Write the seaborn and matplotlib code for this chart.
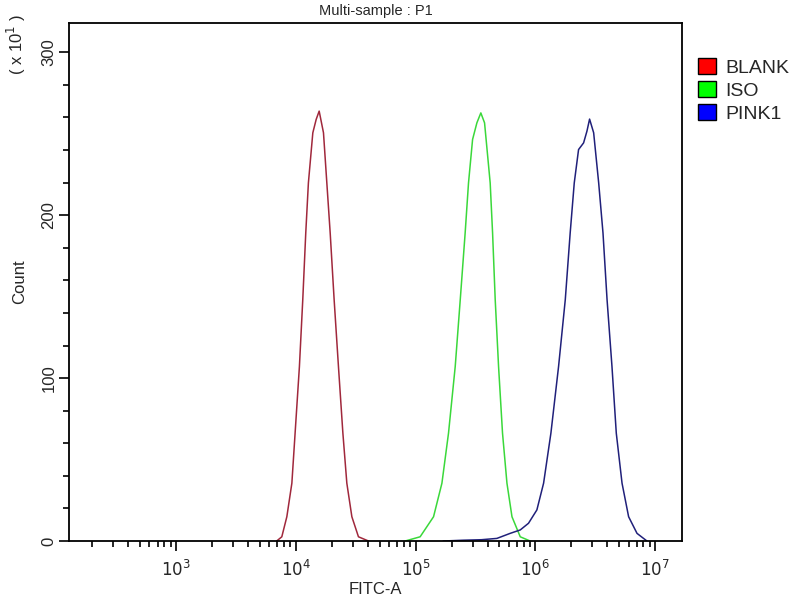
import numpy as np
import pandas as pd
import matplotlib
matplotlib.use("Agg")
import matplotlib.pyplot as plt
import matplotlib.ticker as mticker
from matplotlib.patches import Patch
import seaborn as sns

# peak traces: log10(FITC-A) and count (x10)
blank_log = [3.84, 3.883, 3.925, 3.967, 3.994, 4.030, 4.058, 4.083, 4.105, 4.142, 4.170, 4.195,
             4.231, 4.259, 4.287, 4.320, 4.356, 4.393, 4.426, 4.468, 4.523, 4.607]
blank_cnt = [0, 2.6, 14.9, 35.5, 66.2, 107.1, 148.1, 189.1, 219.8, 250.6, 258.8, 263.9,
             250.6, 219.8, 189.1, 148.1, 107.1, 66.2, 35.5, 14.9, 2.6, 0]

iso_log = [4.913, 5.038, 5.150, 5.220, 5.275, 5.331, 5.373, 5.414, 5.442, 5.476, 5.512, 5.545,
           5.576, 5.623, 5.643, 5.665, 5.693, 5.726, 5.763, 5.805, 5.874, 5.957]
iso_cnt = [0, 2.6, 14.9, 35.5, 66.2, 107.1, 148.1, 189.1, 219.8, 246.5, 256.7, 262.8,
           256.7, 219.8, 189.1, 148.1, 107.1, 66.2, 35.5, 14.9, 2.6, 0]

pink1_log = [5.23, 5.40, 5.55, 5.679, 5.790, 5.874, 5.943, 6.013, 6.069, 6.130, 6.194, 6.250,
             6.291, 6.325, 6.361, 6.403, 6.431, 6.453, 6.487, 6.529, 6.565, 6.599, 6.640,
             6.676, 6.724, 6.779, 6.849, 6.932]
pink1_cnt = [0, 0.5, 0.8, 1.6, 4.7, 6.8, 10.9, 19.1, 35.5, 66.2, 107.1, 148.1,
             189.1, 219.8, 240.3, 244.4, 251.6, 259.0, 250.6, 219.8, 189.1, 148.1, 107.1,
             66.2, 35.5, 14.9, 4.7, 0]

samples = ["BLANK", "ISO", "PINK1"]
line_colors = ["#a0283c", "#3ad83a", "#20207a"]
legend_colors = ["#ff0000", "#00ff00", "#0000ff"]

df = pd.concat([
    pd.DataFrame({"fitc": 10 ** np.array(blank_log), "count": blank_cnt, "sample": "BLANK"}),
    pd.DataFrame({"fitc": 10 ** np.array(iso_log), "count": iso_cnt, "sample": "ISO"}),
    pd.DataFrame({"fitc": 10 ** np.array(pink1_log), "count": pink1_cnt, "sample": "PINK1"}),
])

sns.set_style("ticks")
plt.rcParams["font.family"] = ["Liberation Sans", "DejaVu Sans"]

fig = plt.figure(figsize=(8, 6), dpi=100)
ax = fig.add_axes([0.08625, 0.0983, 0.76625, 0.8634])

sns.lineplot(data=df, x="fitc", y="count", hue="sample", hue_order=samples,
             palette=line_colors, linewidth=1.1, sort=False, estimator=None,
             legend=False, ax=ax)

ax.set_xscale("log")
ax.set_xlim(10 ** 2.106, 2 ** 24)
ax.set_ylim(0, 318)

ax.xaxis.set_major_locator(mticker.FixedLocator([1e3, 1e4, 1e5, 1e6, 1e7]))
ax.xaxis.set_major_formatter(mticker.FixedFormatter(
    ["$10^3$", "$10^4$", "$10^5$", "$10^6$", "$10^7$"]))
ax.xaxis.set_minor_locator(mticker.LogLocator(base=10, subs=np.arange(2, 10)))
ax.xaxis.set_minor_formatter(mticker.NullFormatter())

ax.yaxis.set_major_locator(mticker.MultipleLocator(100))
ax.yaxis.set_minor_locator(mticker.MultipleLocator(20))
for lbl in ax.get_yticklabels():
    lbl.set_rotation(90)
    lbl.set_va("center")

ax.tick_params(which="major", direction="out", length=7, width=1.2, color="black",
               labelsize=12, pad=2)
ax.tick_params(which="minor", direction="out", length=4, width=1.2, color="black")
ax.tick_params(axis="x", which="major", pad=6)
for s in ax.spines.values():
    s.set_color("black")
    s.set_linewidth(1.3)

ax.set_xlabel("FITC-A", fontsize=12, labelpad=2)
ax.set_ylabel("Count", fontsize=12, labelpad=10)
ax.set_title("Multi-sample : P1", fontsize=10.5, pad=6)
fig.text(0.02, 0.925, "( x 10$^1$ )", rotation=90, fontsize=12, ha="center", va="center")

handles = [Patch(facecolor=c, edgecolor="black", linewidth=1.0) for c in legend_colors]
fig.legend(handles, samples, loc="upper left", bbox_to_anchor=(0.86, 0.92),
           frameon=False, fontsize=14, handlelength=0.95, handleheight=0.95,
           handletextpad=0.45, labelspacing=0.2, borderpad=0)

fig.savefig("out.png", dpi=100)
